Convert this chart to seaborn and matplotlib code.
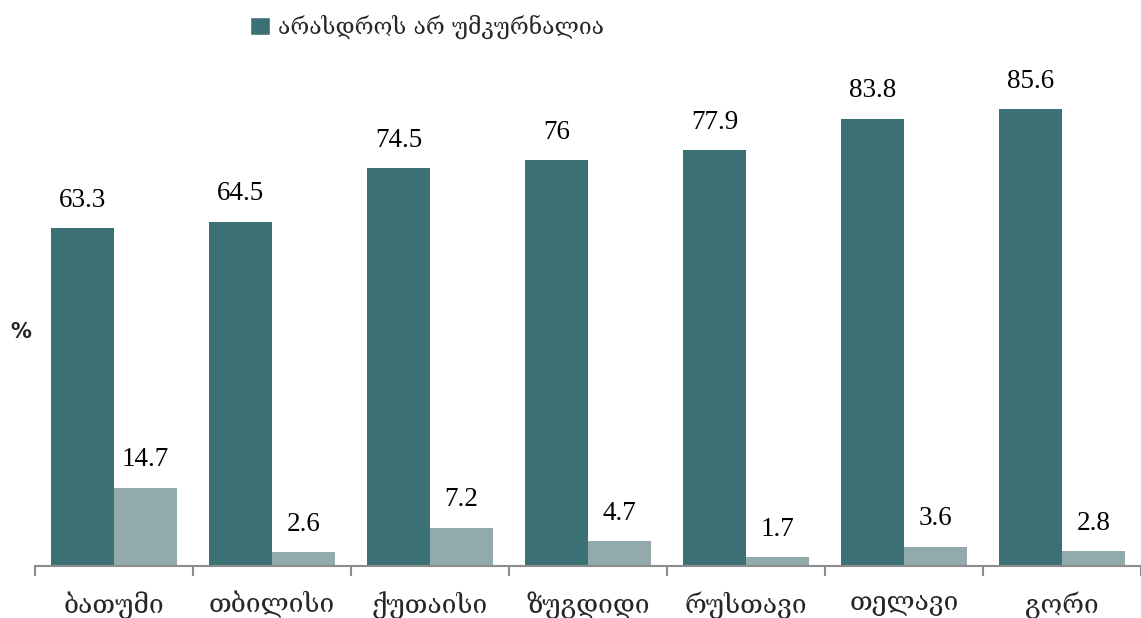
import matplotlib
matplotlib.use('Agg')

import numpy as np
import pandas as pd
import seaborn as sns
import matplotlib.pyplot as plt
from matplotlib.patches import Patch

cities = ['ბათუმი', 'თბილისი', 'ქუთაისი', 'ზუგდიდი', 'რუსთავი', 'თელავი', 'გორი']
never_treated = [63.3, 64.5, 74.5, 76, 77.9, 83.8, 85.6]
other_series = [14.7, 2.6, 7.2, 4.7, 1.7, 3.6, 2.8]
series_names = ['არასდროს არ უმკურნალია', 'სხვა']

DARK = '#3b7075'
LIGHT = '#92aaac'

df = pd.DataFrame({
    'city': cities * 2,
    'value': never_treated + other_series,
    'series': [series_names[0]] * len(cities) + [series_names[1]] * len(cities),
})

sns.set_style('white')
plt.rcParams['font.family'] = ['DejaVu Serif', 'DejaVu Sans']

fig = plt.figure(figsize=(11.41, 6.18), dpi=100)
ax = fig.add_axes([35 / 1141, 52 / 618, 1 - 35 / 1141, (566 - 32) / 618])

sns.barplot(data=df, x='city', y='value', hue='series', hue_order=series_names,
            palette=[DARK, LIGHT], width=0.8, saturation=1, linewidth=0,
            ax=ax, legend=False)

# value labels above each bar
for c in ax.containers:
    ax.bar_label(c, labels=[('%g' % v) for v in c.datavalues], padding=11,
                 fontsize=19.5, family='Liberation Serif', color='black')

ax.set_xlim(-0.5, len(cities) - 0.5)
ax.set_ylim(0, 100)
ax.set_xlabel('')
ax.set_ylabel('')
ax.set_yticks([])

for side in ['top', 'right', 'left']:
    ax.spines[side].set_visible(False)
ax.spines['bottom'].set_color('#8c8c8c')
ax.spines['bottom'].set_linewidth(1.5)

ax.set_xticks(np.arange(len(cities)))
ax.set_xticklabels(cities, fontsize=19)
ax.tick_params(axis='x', which='major', length=0, pad=18)
# tick marks sit between categories
ax.set_xticks(np.arange(-0.5, len(cities)), minor=True)
ax.tick_params(axis='x', which='minor', length=7, width=1.5, color='#8c8c8c',
               direction='out', bottom=True)

fig.text(10 / 1141, 1 - 332 / 618, '%', fontsize=15, fontweight='bold',
         family='DejaVu Sans', va='center', ha='left')

fig.legend(handles=[Patch(facecolor=DARK, label=series_names[0])],
           loc='center left', bbox_to_anchor=(241 / 1141, 1 - 27 / 618),
           frameon=False, fontsize=16.5, handlelength=0.85, handleheight=0.85,
           handletextpad=0.35, borderaxespad=0)

fig.savefig('out.png', dpi=100)
